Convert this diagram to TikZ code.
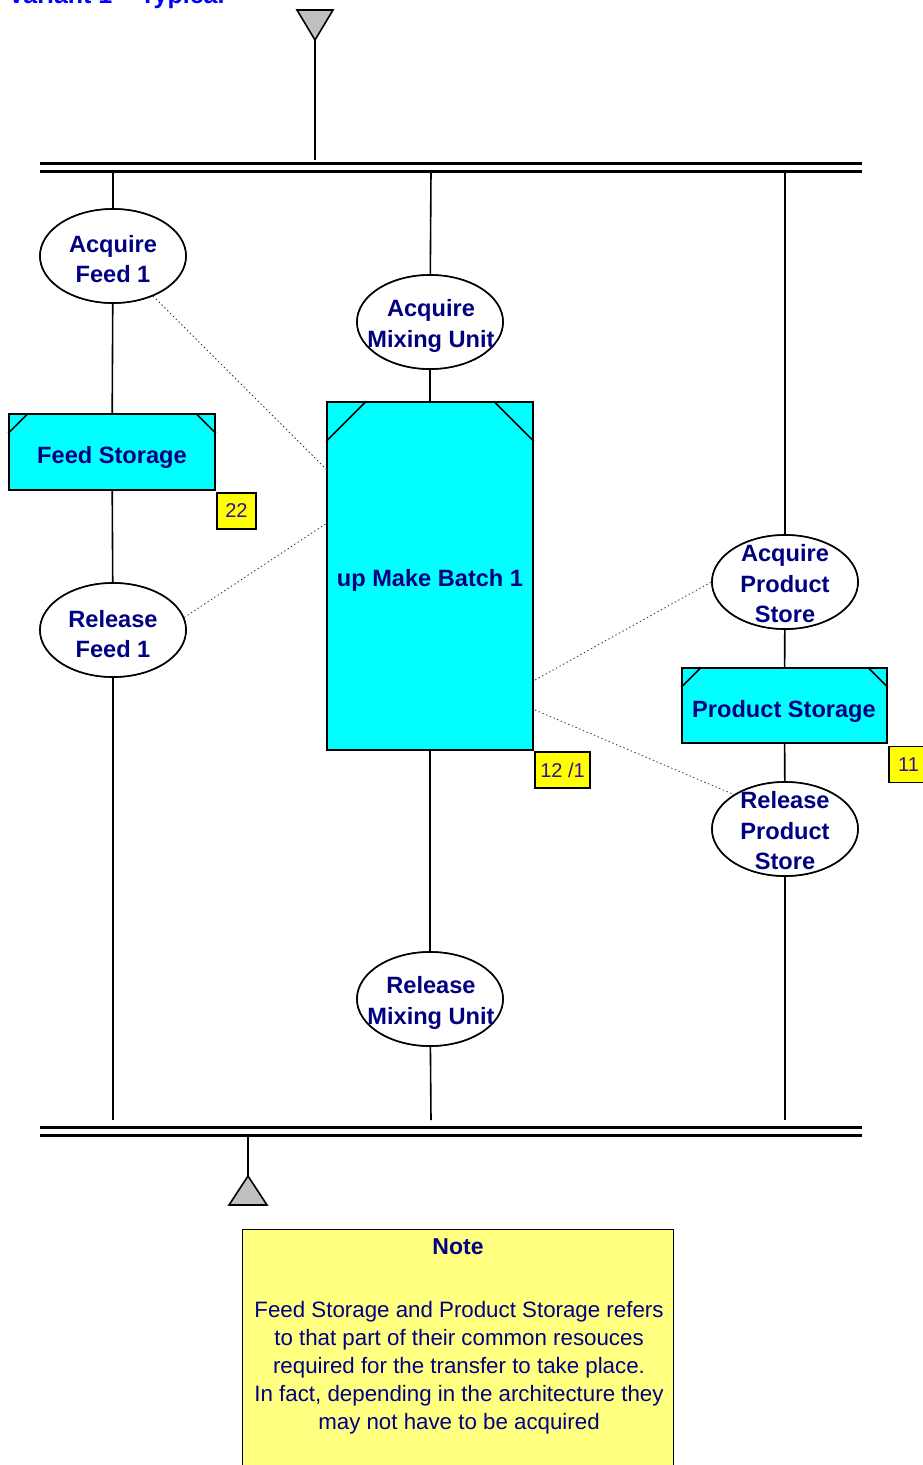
\documentclass[tikz,border=0pt]{standalone}
\usepackage{fontspec}
\setmainfont{Liberation Sans}
\usetikzlibrary{shapes.geometric}
\definecolor{txtnavy}{RGB}{0,0,128}
\definecolor{tagtxt}{RGB}{48,16,150}
\definecolor{notefill}{RGB}{255,255,128}
\definecolor{trigray}{RGB}{192,192,192}
\definecolor{unitcyan}{RGB}{0,255,255}
\definecolor{tagyellow}{RGB}{255,255,0}
\tikzset{
  lane/.style={line width=1.6pt, black},
  busbar/.style={line width=2.6pt, black},
  ell/.style={ellipse, draw=black, line width=1.6pt, fill=white, minimum width=146pt, minimum height=94pt, inner sep=0pt},
  elltext/.style={align=center, text=txtnavy, font=\fontsize{23.6}{30.5}\selectfont\bfseries},
  unitbox/.style={rectangle, draw=black, line width=1.6pt, fill=unitcyan, inner sep=0pt},
  unittext/.style={text=txtnavy, font=\fontsize{23.6}{30}\selectfont\bfseries},
  tag/.style={rectangle, draw=black, line width=1.5pt, fill=tagyellow, inner sep=0pt, minimum height=36pt, text=tagtxt, font=\fontsize{20}{24}\selectfont},
  link/.style={line width=0.8pt, black!80, dash pattern=on 1.4pt off 2.6pt},
}
\begin{document}
\begin{tikzpicture}[x=1pt,y=-1pt]
\useasboundingbox (0,0) rectangle (923,1465);

% heading, partly above the page edge
\node[anchor=base west, inner sep=0pt, text=blue, font=\fontsize{25}{30}\selectfont\bfseries] (title) at (8,3) {Variant 1 – Typical};

% bus bars
\draw[busbar] (40,163.5) -- (862,163.5);
\draw[busbar] (40,171.5) -- (862,171.5);
\draw[busbar] (40,1127.5) -- (862,1127.5);
\draw[busbar] (40,1135.5) -- (862,1135.5);

% input triangle
\coordinate (tin) at (315,40);
\coordinate (tinbar) at (315,160);
\draw[lane] (tin) -- (tinbar);
\draw[line width=1.6pt, fill=trigray, line join=miter] (297,10) -- (333,10) -- (tin) -- cycle;

% output triangle
\coordinate (tout) at (248,1176);
\coordinate (toutbar) at (248,1135);
\draw[lane] (toutbar) -- (tout);
\draw[line width=1.6pt, fill=trigray, line join=miter] (tout) -- (267,1205) -- (229,1205) -- cycle;

% lane end points
\coordinate (t1) at (113,171);  \coordinate (b1) at (113,1120);
\coordinate (t2) at (431,171);  \coordinate (b2) at (431,1120);
\coordinate (t3) at (785,171);  \coordinate (b3) at (785,1120);

% nodes
\node[ell] (af) at (113,256) {};
\node[ell] (rf) at (113,630) {};
\node[ell] (am) at (430,322) {};
\node[ell] (rm) at (430,999) {};
\node[ell] (ap) at (785,582) {};
\node[ell] (rp) at (785,829) {};

\node[unitbox, minimum width=206pt, minimum height=76pt] (fs) at (112,452) {};
\node[unitbox, minimum width=206pt, minimum height=348pt] (mb) at (430,576) {};
\node[unitbox, minimum width=205pt, minimum height=75pt] (ps) at (784.5,705.5) {};

% lanes
\draw[lane] (t1) -- (af); \draw[lane] (af) -- (fs); \draw[lane] (fs) -- (rf); \draw[lane] (rf) -- (b1);
\draw[lane] (t2) -- (am); \draw[lane] (am) -- (mb); \draw[lane] (mb) -- (rm); \draw[lane] (rm) -- (b2);
\draw[lane] (t3) -- (ap); \draw[lane] (ap) -- (ps); \draw[lane] (ps) -- (rp); \draw[lane] (rp) -- (b3);

% redraw nodes over lanes
\node[ell] at (af) {};
\node[ell] at (rf) {};
\node[ell] at (am) {};
\node[ell] at (rm) {};
\node[ell] at (ap) {};
\node[ell] at (rp) {};

% ellipse labels
\node[elltext] at (113,259) {Acquire\\Feed 1};
\node[elltext] at (113,634) {Release\\Feed 1};
\node[elltext] at (431,326) {Acquire\\Mixing Unit};
\node[elltext] at (431,1003) {Release\\Mixing Unit};
\node[elltext] at (785,584) {Acquire\\Product\\Store};
\node[elltext] at (785,831) {Release\\Product\\Store};

% box labels
\node[unittext] at (112,457) {Feed Storage};
\node[unittext] at (430,580) {up Make Batch 1};
\node[unittext] at (784,711) {Product Storage};

% chamfered corners
\draw[line width=1.6pt] (fs.north west) ++(0,20) -- ++(20,-20);
\draw[line width=1.6pt] (fs.north east) ++(0,20) -- ++(-20,-20);
\draw[line width=1.6pt] (mb.north west) ++(0,40) -- ++(40,-40);
\draw[line width=1.6pt] (mb.north east) ++(0,40) -- ++(-40,-40);
\draw[line width=1.6pt] (ps.north west) ++(0,20) -- ++(20,-20);
\draw[line width=1.6pt] (ps.north east) ++(0,20) -- ++(-20,-20);

% tags
\node[tag, minimum width=39pt] (tg1) at (236.5,511) {22};
\node[tag, minimum width=55pt] (tg2) at (562.5,770) {12 /1};
\node[tag, minimum width=39pt] (tg3) at (908.5,764.5) {11};

% dotted links
\coordinate (mbl1) at (327,470);
\coordinate (mbl2) at (327,523);
\coordinate (mbr1) at (535,680);
\coordinate (mbr2) at (535,710);
\draw[link] (af) -- (mbl1);
\draw[link] (rf.10) -- (mbl2);
\draw[link] (mbr1) -- (ap.west);
\draw[link] (mbr2) -- (rp.146);

% note
\node[rectangle, draw=black, line width=1.2pt, fill=notefill, minimum width=431pt, minimum height=260pt, anchor=north west, inner sep=0pt] (note) at (242,1229) {};
\node[text=txtnavy, font=\fontsize{23}{28}\selectfont\bfseries] (notetitle) at (458,1247) {Note};
\node[text=txtnavy, align=center, font=\fontsize{22.3}{28}\selectfont, anchor=north] (notebody) at (459,1298) {Feed Storage and Product Storage refers\\to that part of their common resouces\\required for the transfer to take place.\\In fact, depending in the architecture they\\may not have to be acquired};
\end{tikzpicture}
\end{document}
